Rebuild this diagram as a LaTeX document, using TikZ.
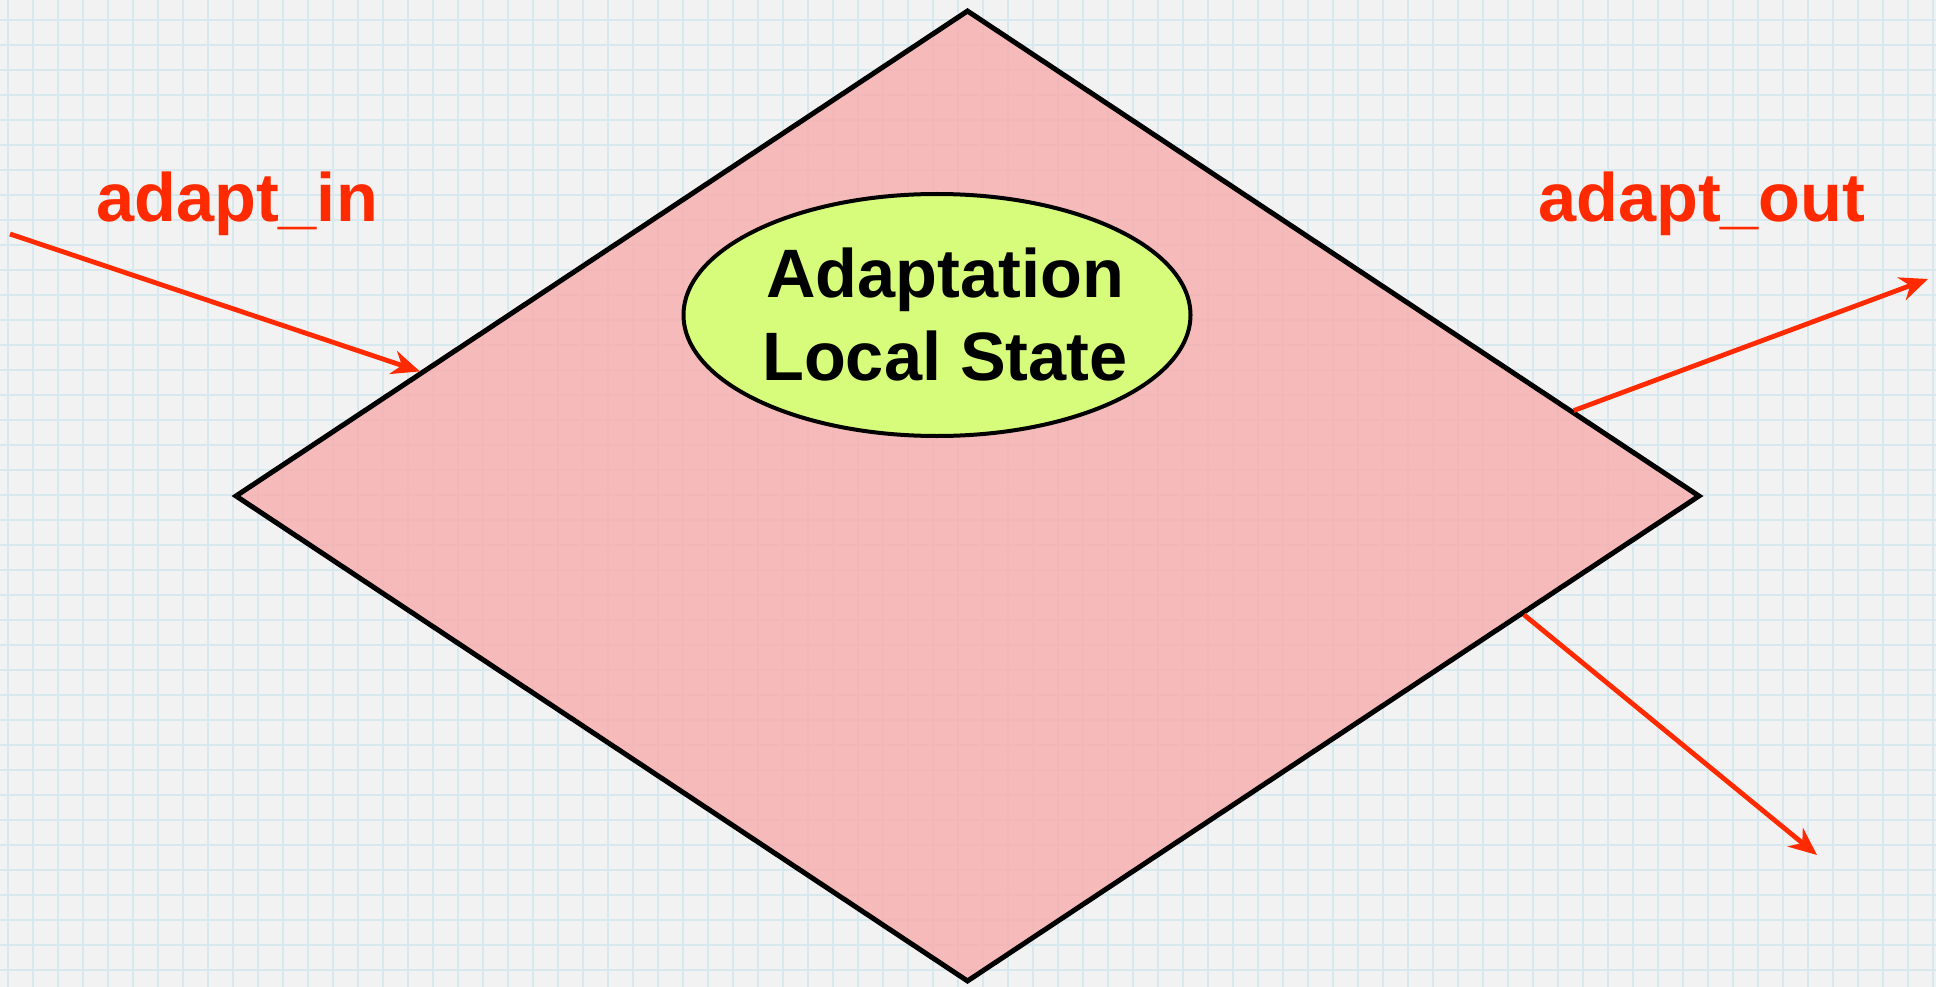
\documentclass[tikz,border=0pt]{standalone}
\usepackage{fontspec}
\setmainfont{Liberation Sans}
\usetikzlibrary{shapes.geometric,arrows.meta,calc}
\definecolor{paper}{HTML}{F2F2F2}
\definecolor{gridblue}{HTML}{D8E8EF}
\definecolor{pinkfill}{HTML}{F9ADAC}
\definecolor{limefill}{HTML}{D7FB7B}
\definecolor{flowred}{HTML}{FF2A00}
\begin{document}
\begin{tikzpicture}[x=1pt,y=-1pt,
  flow/.style={draw=flowred, line width=4.8pt,
    -{Stealth[length=28pt,width=24pt,inset=9pt]}},
  flowlabel/.style={text=flowred, font=\fontsize{68.5}{80}\selectfont\bfseries,
    anchor=base west, inner sep=0pt},
  statebox/.style={diamond, draw=black, line width=5pt, fill=pinkfill,
    fill opacity=0.8, inner sep=0pt},
  localbox/.style={ellipse, draw=black, line width=4pt, fill=limefill,
    inner ysep=0pt, inner xsep=-50pt, align=center, text=black,
    font=\fontsize{68.5}{83}\selectfont\bfseries}]

% graph-paper background
\fill[paper] (0,0) rectangle (1936,987);
\useasboundingbox (0,0) rectangle (1936,987);
\foreach \gx in {8,33,...,1933}
  \draw[gridblue, line width=1.4pt] (\gx,0) -- (\gx,987);
\foreach \gy in {20,45,...,995}
  \draw[gridblue, line width=1.4pt] (0,\gy) -- (1936,\gy);

% adaptation component and its local state
\node[statebox, minimum width=1465pt, minimum height=972pt] (state) at (967.5,496) {};
\node[localbox, minimum width=507pt, minimum height=242pt] (local) at (937,315)
  {\kern16pt Adaptation\\\kern16pt Local State};

% ports
\node[flowlabel] (inlabel) at (96,222) {adapt\_in};
\node[flowlabel] (outlabel) at (1538,222) {adapt\_out};

\coordinate (inStart) at (10,234);
\coordinate (outTip) at (1928,279);
\coordinate (downTip) at (1817,855);

\draw[flow] (inStart) -- ($(state.west)!0.255!(state.north)$);
\draw[flow] ($(state.north)!0.825!(state.east)$) -- (outTip);
\draw[flow] ($(state.south)!0.757!(state.east)$) -- (downTip);
\end{tikzpicture}
\end{document}
